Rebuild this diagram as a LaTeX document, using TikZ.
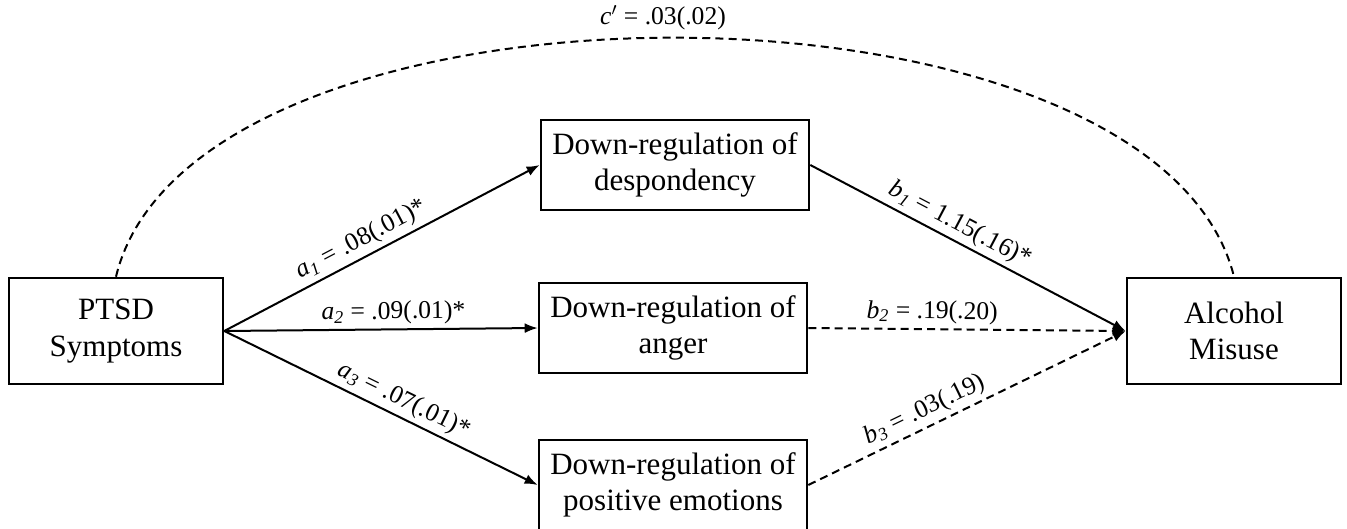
\documentclass[tikz,border=0pt]{standalone}
\usepackage{fontspec}
\setmainfont{Liberation Serif}
\usetikzlibrary{
  arrows.meta
}
\tikzset{
  >={Latex[length=6.5pt,width=5pt]},
  every node/.style={font=\fontsize{15.5}{18.3}\selectfont, text=black},
  varbox/.style={
    draw,
    line width=1.3pt,
    align=center,
    inner sep=0pt,
    minimum width=134pt,
    minimum height=45pt
  },
  endbox/.style={varbox, minimum width=107pt, minimum height=53pt},
  pathsolid/.style={->, line width=1pt},
  pathdashed/.style={->, line width=1pt, dash pattern=on 4pt off 2.6pt},
  coeff/.style={font=\fontsize{12.8}{15}\selectfont, sloped, above=1pt, inner sep=1pt},
}
\newcommand{\coef}[2]{\textit{#1}\textsubscript{\textit{#2}}}

\begin{document}
\begin{tikzpicture}[x=0.5pt, y=-0.5pt]
  \useasboundingbox (0,0) rectangle (1347,529);

  % =====================================================================
  % Predictor, mediators, outcome
  % =====================================================================
  \node[endbox] (ptsd) at (116, 331) {PTSD\\Symptoms};
  \node[endbox] (alcohol) at (1234, 331) {Alcohol\\Misuse};

  \node[varbox] (despond) at (675, 165) {Down-regulation of\\despondency};
  \node[varbox] (anger)   at (673, 328) {Down-regulation of\\anger};
  \node[varbox] (posemo)  at (673, 485) {Down-regulation of\\positive emotions};

  % =====================================================================
  % a paths
  % =====================================================================
  \draw[pathsolid] (ptsd.east) -- (despond.west)
    node[pos=0.46, coeff] {\coef{a}{1} = .08(.01)*};
  \draw[pathsolid] (ptsd.east) -- (anger.west)
    node[pos=0.54, coeff] {\coef{a}{2} = .09(.01)*};
  \draw[pathsolid] (ptsd.east) -- (posemo.west)
    node[pos=0.55, coeff] {\coef{a}{3} = .07(.01)*};

  % =====================================================================
  % b paths
  % =====================================================================
  \draw[pathsolid] (despond.east) -- (alcohol.west)
    node[pos=0.45, coeff] {\coef{b}{1} = 1.15(.16)*};
  \draw[pathdashed] (anger.east) -- (alcohol.west)
    node[pos=0.39, coeff] {\coef{b}{2} = .19(.20)};
  \draw[pathdashed] (posemo.east) -- (alcohol.west)
    node[pos=0.39, coeff] {\coef{b}{3} = .03(.19)};

  % Direct effect (arc over the top)
  \draw[line width=1pt, dash pattern=on 4pt off 2.6pt]
    (ptsd.north) .. controls (193, -42) and (1154, -42) .. (alcohol.north);
  \node[font=\fontsize{12.8}{15}\selectfont] (direct) at (663, 18)
    {\textit{c}$'$ = .03(.02)};

\end{tikzpicture}
\end{document}
